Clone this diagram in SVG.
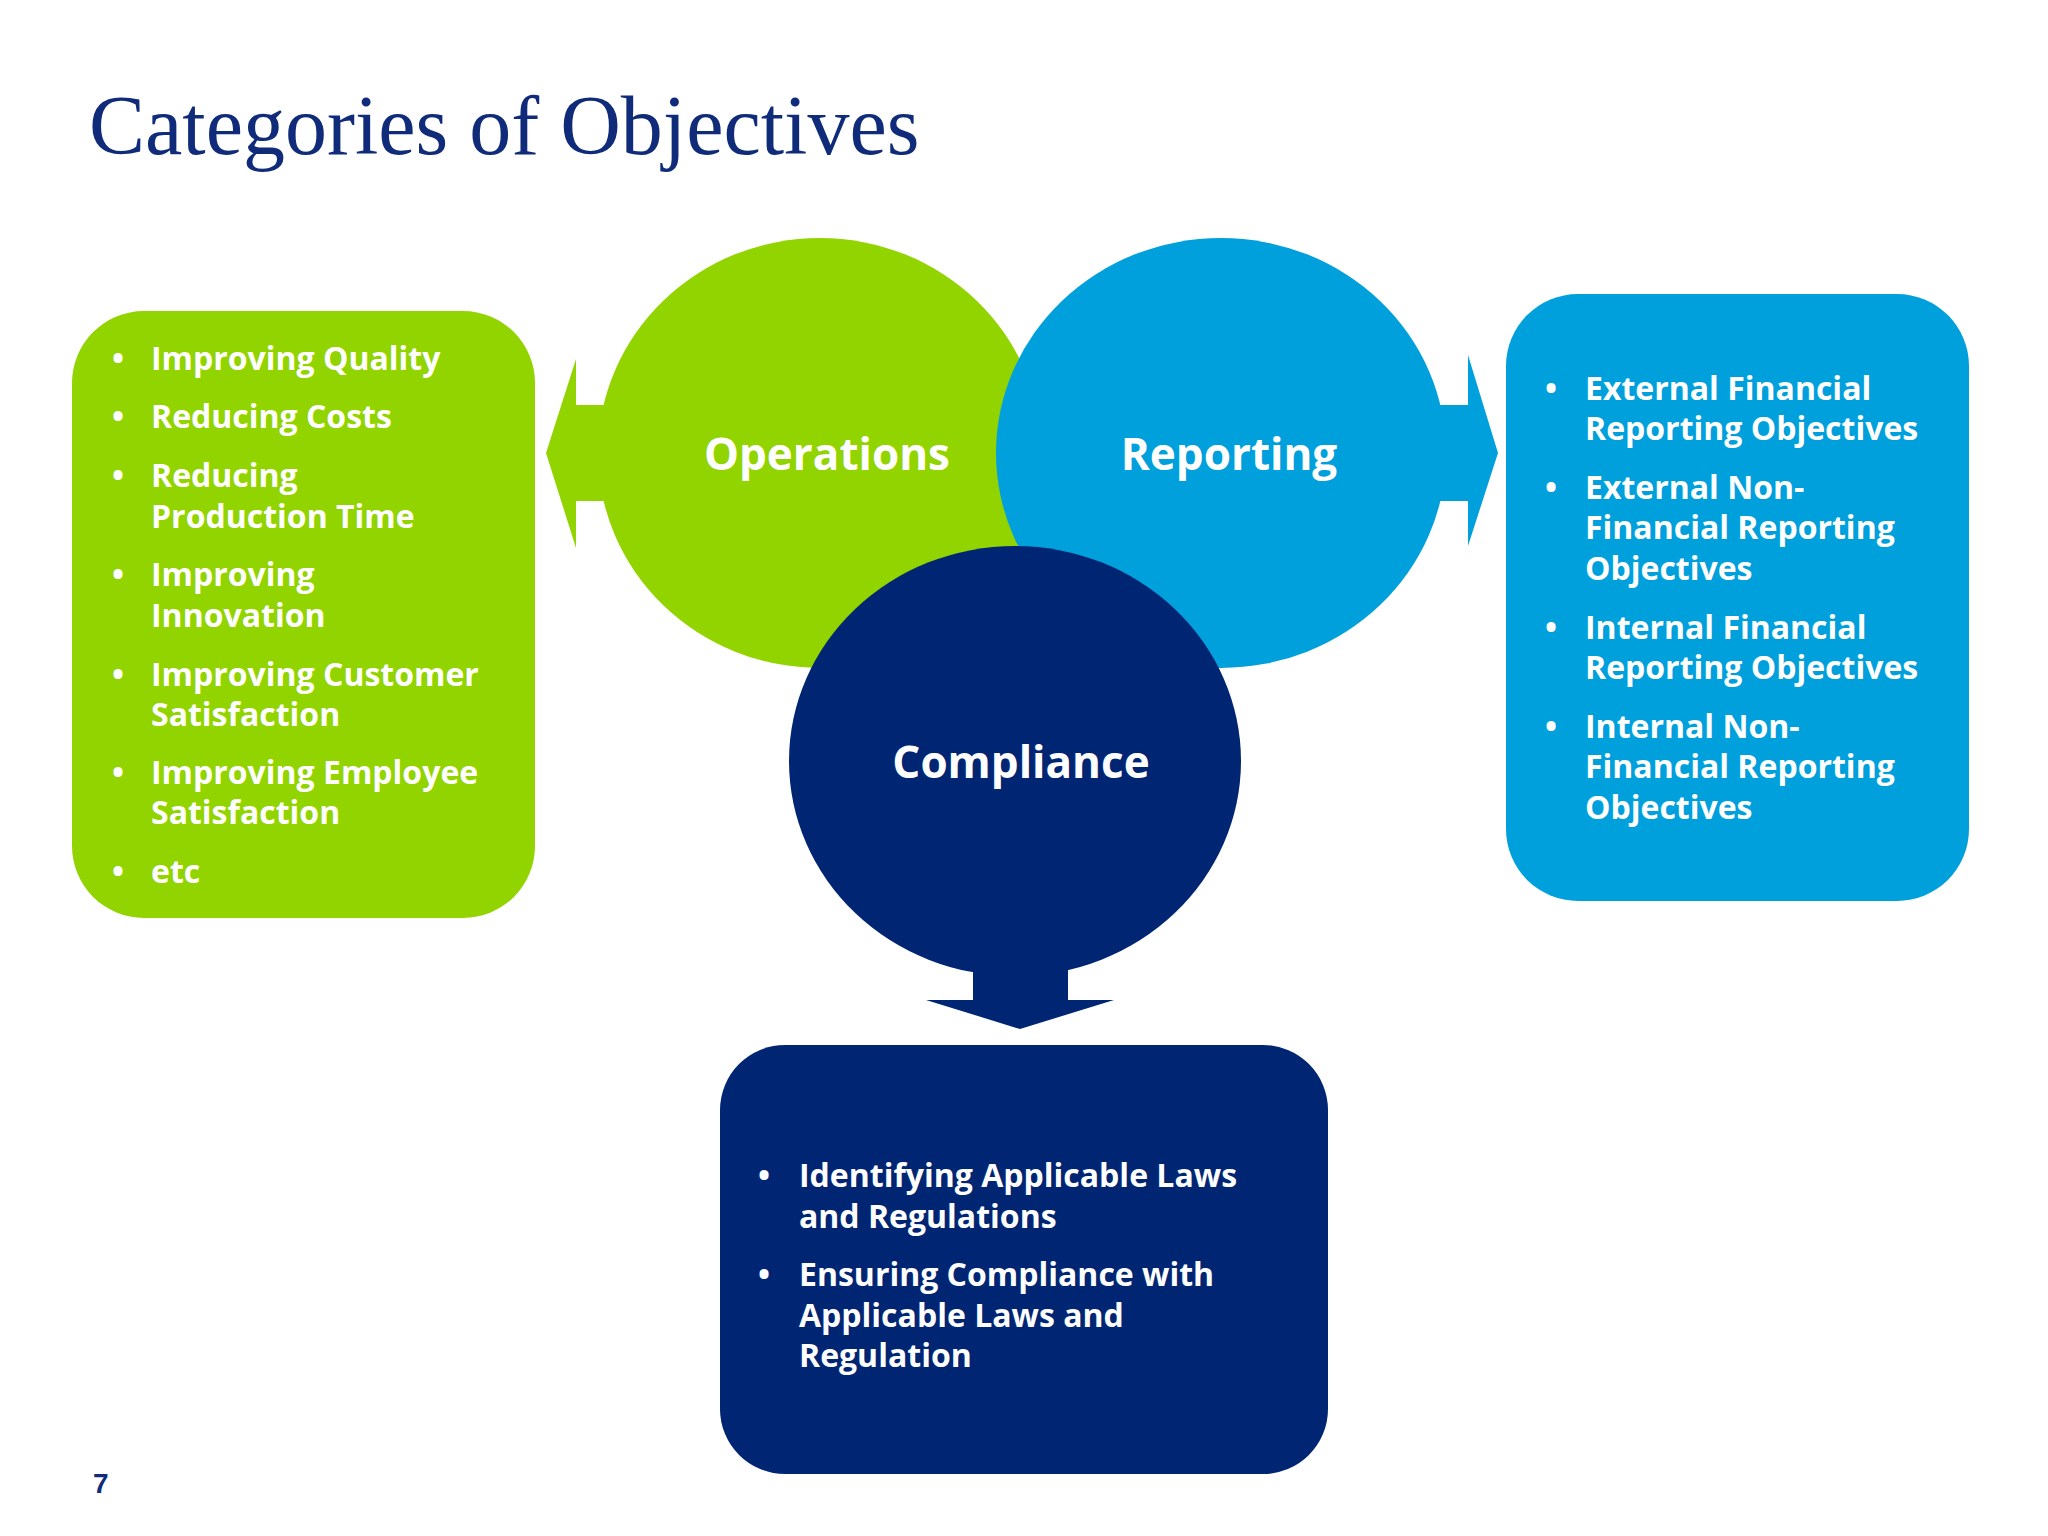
<svg xmlns="http://www.w3.org/2000/svg" width="2048" height="1536" viewBox="0 0 2048 1536">
<style>
.t{font-family:"Open Sans","DejaVu Sans",sans-serif;font-weight:700;fill:#fff;font-size:32px}
.c{font-family:"Open Sans","DejaVu Sans",sans-serif;font-weight:700;fill:#fff;font-size:44px;text-anchor:middle}
</style>
<rect width="2048" height="1536" fill="#fff"/>
<text x="89" y="154" font-family="Liberation Serif,serif" font-size="84" fill="#0f2b7a">Categories of Objectives</text>
<text x="93" y="1493" font-family="Liberation Sans,sans-serif" font-weight="700" font-size="28" fill="#0f2b7a">7</text>
<g id="connectors">
<polygon points="620,405 576,405 576,359 546,453 576,548 576,501 620,501" fill="#92d400"/>
<polygon points="1400,405 1468,405 1468,355 1498,453 1468,546 1468,501 1400,501" fill="#00a0dd"/>
<polygon points="973,950 973,1000 926,1000 1020,1029 1114,1000 1068,1000 1068,950" fill="#002673"/>
</g>
<g id="operations"><ellipse cx="820" cy="453" rx="222" ry="215" fill="#92d400"/><text class="c" x="827" y="470">Operations</text></g>
<g id="reporting"><ellipse cx="1221" cy="453" rx="225" ry="215" fill="#00a0dd"/><text class="c" x="1229" y="470">Reporting</text></g>
<g id="compliance"><ellipse cx="1015" cy="761" rx="226" ry="215" fill="#002673"/><text class="c" x="1021" y="778">Compliance</text></g>
<g id="ops-box"><rect x="72" y="311" width="463" height="607" rx="72" fill="#92d400"/>
<g class="t">
<text x="112" y="370">•</text><text x="151" y="370">Improving Quality</text>
<text x="112" y="428">•</text><text x="151" y="428">Reducing Costs</text>
<text x="112" y="487">•</text><text x="151" y="487">Reducing</text><text x="151" y="528">Production Time</text>
<text x="112" y="586">•</text><text x="151" y="586">Improving</text><text x="151" y="627">Innovation</text>
<text x="112" y="686">•</text><text x="151" y="686">Improving Customer</text><text x="151" y="726">Satisfaction</text>
<text x="112" y="784">•</text><text x="151" y="784">Improving Employee</text><text x="151" y="824">Satisfaction</text>
<text x="112" y="883">•</text><text x="151" y="883">etc</text>
</g></g>
<g id="rep-box"><rect x="1506" y="294" width="463" height="607" rx="72" fill="#00a0dd"/>
<g class="t">
<text x="1545" y="400">•</text><text x="1585" y="400">External Financial</text><text x="1585" y="440">Reporting Objectives</text>
<text x="1545" y="499">•</text><text x="1585" y="499">External Non-</text><text x="1585" y="539">Financial Reporting</text><text x="1585" y="580">Objectives</text>
<text x="1545" y="639">•</text><text x="1585" y="639">Internal Financial</text><text x="1585" y="679">Reporting Objectives</text>
<text x="1545" y="738">•</text><text x="1585" y="738">Internal Non-</text><text x="1585" y="778">Financial Reporting</text><text x="1585" y="819">Objectives</text>
</g></g>
<g id="comp-box"><rect x="720" y="1045" width="608" height="429" rx="65" fill="#002673"/>
<g class="t">
<text x="758" y="1187">•</text><text x="799" y="1187">Identifying Applicable Laws</text><text x="799" y="1228">and Regulations</text>
<text x="758" y="1286">•</text><text x="799" y="1286">Ensuring Compliance with</text><text x="799" y="1327">Applicable Laws and</text><text x="799" y="1367">Regulation</text>
</g></g>
</svg>
